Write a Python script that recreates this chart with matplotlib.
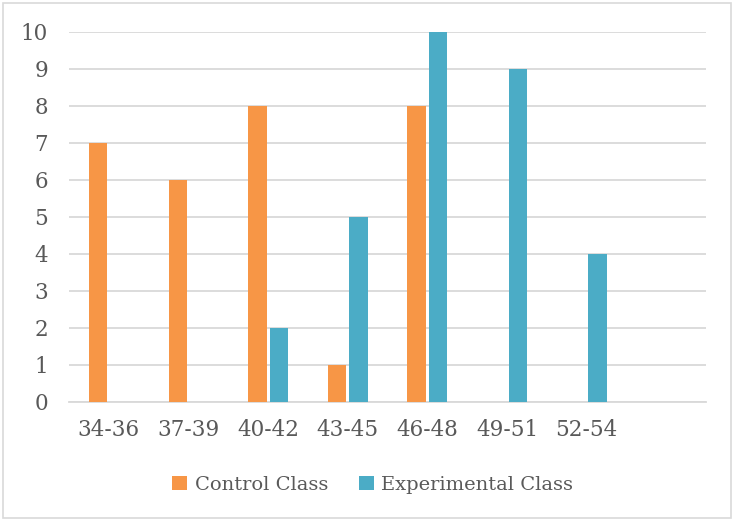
import numpy as np
import matplotlib
matplotlib.use('Agg')
import matplotlib.pyplot as plt
from matplotlib.patches import Rectangle

# data
groups = ['34-36', '37-39', '40-42', '43-45', '46-48', '49-51', '52-54', '']
control = [7, 6, 8, 1, 8, 0, 0, 0]
experimental = [0, 0, 2, 5, 10, 9, 4, 0]

plt.rcParams['font.family'] = ['DejaVu Serif']
text_col = '#595959'
grid_col = '#D9D9D9'

fig = plt.figure(figsize=(7.34, 5.22), dpi=100)
ax = fig.add_axes([0.094, 0.230, 0.868, 0.709])

x = np.arange(len(groups))
w = 0.23
ax.bar(x - 0.135, control, w, color='#F79646', label='Control Class', zorder=3)
ax.bar(x + 0.135, experimental, w, color='#4BACC6', label='Experimental Class', zorder=3)

ax.set_xlim(-0.5, len(groups) - 0.5)
ax.set_ylim(0, 10)
ax.set_yticks(range(0, 11))
ax.set_xticks(x)
ax.set_xticklabels(groups)
ax.yaxis.grid(True, color=grid_col, linewidth=1.3, zorder=0)
ax.tick_params(axis='both', length=0, labelsize=15.5, colors=text_col)
ax.tick_params(axis='y', pad=15)
ax.tick_params(axis='x', pad=12)
for s in ['top', 'right', 'left']:
    ax.spines[s].set_visible(False)
ax.spines['bottom'].set_color(grid_col)
ax.spines['bottom'].set_linewidth(1.3)

leg = fig.legend(loc='center', bbox_to_anchor=(0.508, 0.071), ncol=2, frameon=False,
                 fontsize=14, handlelength=0.75, handleheight=0.75, handletextpad=0.4,
                 columnspacing=1.6)
for t in leg.get_texts():
    t.set_color(text_col)

fig.patches.append(Rectangle((0.004, 0.008), 0.992, 0.986, transform=fig.transFigure,
                             fill=False, edgecolor=grid_col, linewidth=1.2))

fig.savefig('out.png', dpi=100)
